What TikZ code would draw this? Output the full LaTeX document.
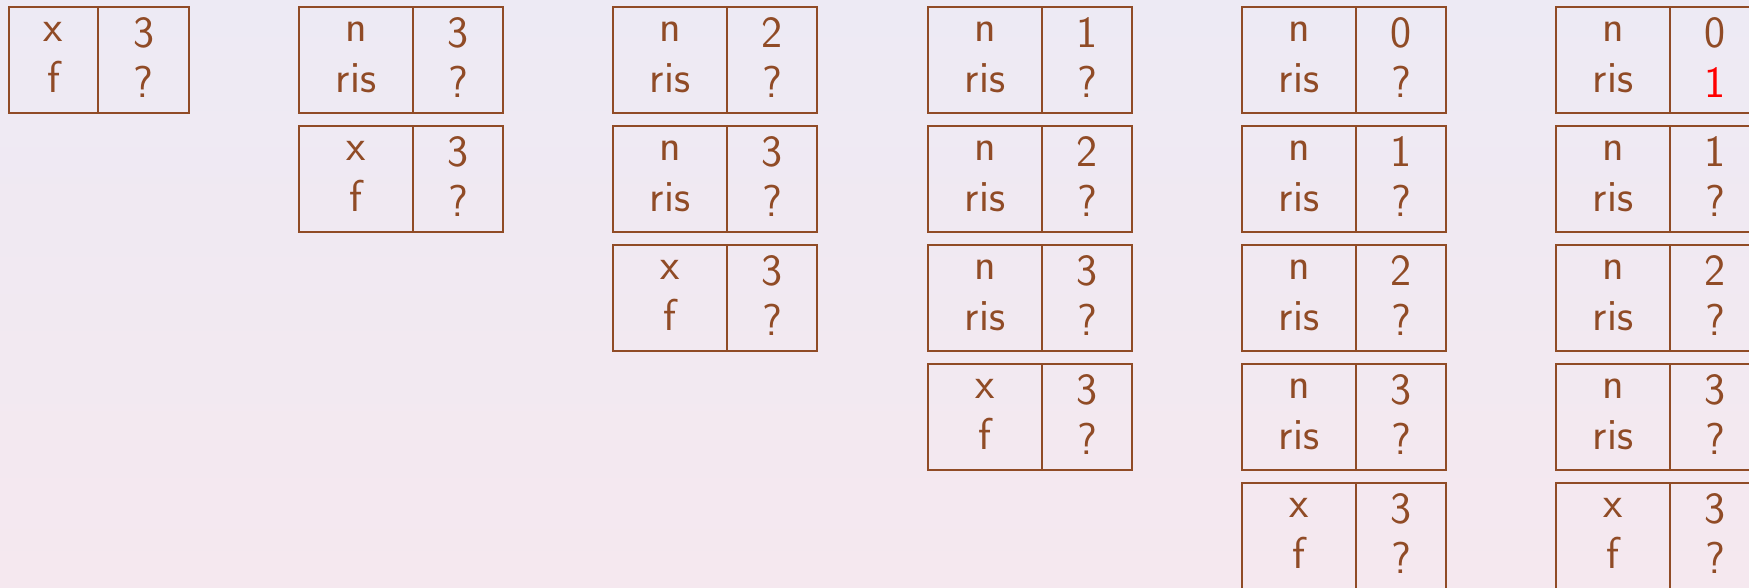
\documentclass[tikz,border=0pt]{standalone}
\usepackage{fontspec}
\usepackage{xcolor}
\definecolor{framebrown}{HTML}{904B26}
\definecolor{bgtop}{HTML}{EDEAF4}
\definecolor{bgbottom}{HTML}{F5E8EF}
\usepackage{tikz}
\usetikzlibrary{positioning}
\newcommand{\cellfont}{\sffamily\fontsize{25.4}{28.8}\selectfont}
\newcommand{\cellstrut}{\rule[-0.1cm]{0pt}{0.76cm}}

\begin{document}
\begin{tikzpicture}[
  node distance=0.26cm,
  every node/.style={font=\cellfont, text=framebrown},
  namecell/.style={rectangle, draw=framebrown, line width=1.2pt,
                   minimum width=2.28cm, minimum height=2.12cm,
                   inner sep=0pt, outer sep=0pt, align=center,
                   execute at begin node=\cellstrut,
                   execute at end node=\cellstrut},
  valcell/.style={namecell, minimum width=1.8cm},
]
  \path[use as bounding box, clip] (0,0) rectangle (34.98,-11.74);
  \shade[top color=bgtop, bottom color=bgbottom] (0,0) rectangle (34.98,-11.74);

  % main
  \node[namecell, minimum width=1.78cm, anchor=north west] (c1x) at (0.18,-0.14) {x\\f};
  \node[valcell, minimum width=1.82cm, right=0pt of c1x] (c1xval) {3\\?};

  % fatt(3)
  \node[namecell, anchor=north west] (c2n3) at (5.98,-0.14) {n\\ris};
  \node[valcell, right=0pt of c2n3] (c2n3val) {3\\?};
  \node[namecell, below=of c2n3] (c2x) {x\\f};
  \node[valcell, right=0pt of c2x] (c2xval) {3\\?};

  % fatt(2)
  \node[namecell, anchor=north west] (c3n2) at (12.26,-0.14) {n\\ris};
  \node[valcell, right=0pt of c3n2] (c3n2val) {2\\?};
  \node[namecell, below=of c3n2] (c3n3) {n\\ris};
  \node[valcell, right=0pt of c3n3] (c3n3val) {3\\?};
  \node[namecell, below=of c3n3] (c3x) {x\\f};
  \node[valcell, right=0pt of c3x] (c3xval) {3\\?};

  % fatt(1)
  \node[namecell, anchor=north west] (c4n1) at (18.56,-0.14) {n\\ris};
  \node[valcell, right=0pt of c4n1] (c4n1val) {1\\?};
  \node[namecell, below=of c4n1] (c4n2) {n\\ris};
  \node[valcell, right=0pt of c4n2] (c4n2val) {2\\?};
  \node[namecell, below=of c4n2] (c4n3) {n\\ris};
  \node[valcell, right=0pt of c4n3] (c4n3val) {3\\?};
  \node[namecell, below=of c4n3] (c4x) {x\\f};
  \node[valcell, right=0pt of c4x] (c4xval) {3\\?};

  % fatt(0)
  \node[namecell, anchor=north west] (c5n0) at (24.84,-0.14) {n\\ris};
  \node[valcell, right=0pt of c5n0] (c5n0val) {0\\?};
  \node[namecell, below=of c5n0] (c5n1) {n\\ris};
  \node[valcell, right=0pt of c5n1] (c5n1val) {1\\?};
  \node[namecell, below=of c5n1] (c5n2) {n\\ris};
  \node[valcell, right=0pt of c5n2] (c5n2val) {2\\?};
  \node[namecell, below=of c5n2] (c5n3) {n\\ris};
  \node[valcell, right=0pt of c5n3] (c5n3val) {3\\?};
  \node[namecell, below=of c5n3] (c5x) {x\\f};
  \node[valcell, right=0pt of c5x] (c5xval) {3\\?};

  % fatt(0) returns 1
  \node[namecell, anchor=north west] (c6n0) at (31.12,-0.14) {n\\ris};
  \node[valcell, right=0pt of c6n0] (c6n0val) {0\\\textcolor{red}{1}};
  \node[namecell, below=of c6n0] (c6n1) {n\\ris};
  \node[valcell, right=0pt of c6n1] (c6n1val) {1\\?};
  \node[namecell, below=of c6n1] (c6n2) {n\\ris};
  \node[valcell, right=0pt of c6n2] (c6n2val) {2\\?};
  \node[namecell, below=of c6n2] (c6n3) {n\\ris};
  \node[valcell, right=0pt of c6n3] (c6n3val) {3\\?};
  \node[namecell, below=of c6n3] (c6x) {x\\f};
  \node[valcell, right=0pt of c6x] (c6xval) {3\\?};
\end{tikzpicture}
\end{document}
